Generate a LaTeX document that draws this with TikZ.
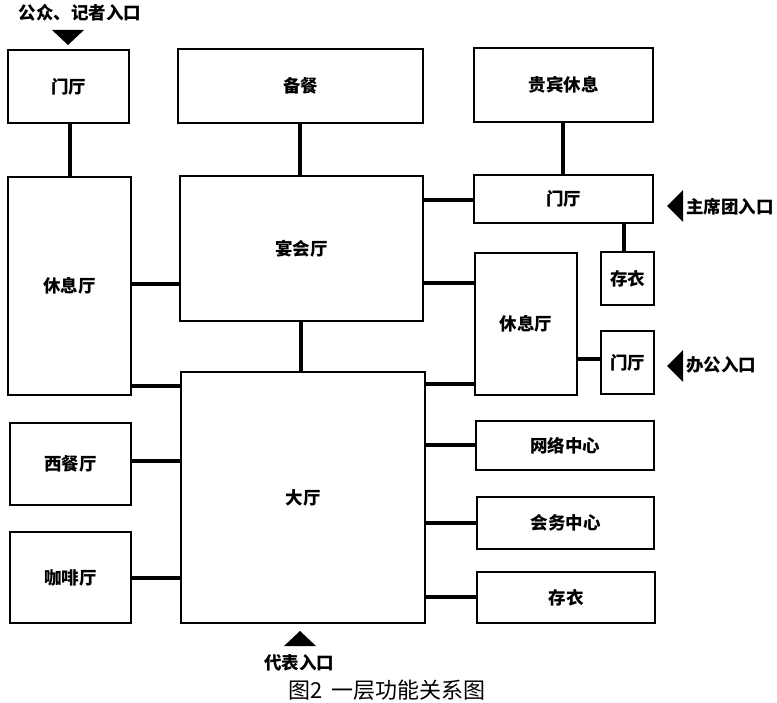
\documentclass[tikz,border=0pt]{standalone}
\usepackage{fontspec}
\setmainfont{Noto Sans CJK SC}
\begin{document}
\begin{tikzpicture}[x=1pt,y=-1pt,
  box/.style={draw,line width=1.4pt,rectangle,inner sep=0pt,font=\fontsize{17.5}{17.5}\selectfont\bfseries},
  conn/.style={line width=3.2pt},
  entry/.style={font=\fontsize{17.5}{17.5}\selectfont\bfseries,inner sep=0pt},
  tri/.style={fill=black}]
\useasboundingbox (0,0) rectangle (777,703);
% boxes
\node[box,minimum width=121pt,minimum height=73pt] (mt1) at (68.5,86.5) {门厅};
\node[box,minimum width=245pt,minimum height=74pt] (bc) at (300.5,86) {备餐};
\node[box,minimum width=179pt,minimum height=74pt] (gb) at (563.5,85) {贵宾休息};
\node[box,minimum width=123pt,minimum height=218pt] (xl) at (69.5,286) {休息厅};
\node[box,minimum width=243pt,minimum height=145pt] (yh) at (301.5,248.5) {宴会厅};
\node[box,minimum width=179pt,minimum height=48pt] (mt2) at (563.5,199) {门厅};
\node[box,minimum width=53pt,minimum height=53pt] (cy1) at (627.5,278.5) {存衣};
\node[box,minimum width=102pt,minimum height=142pt] (xr) at (526,324) {休息厅};
\node[box,minimum width=53pt,minimum height=63pt] (mt3) at (627.5,362.5) {门厅};
\node[box,minimum width=244pt,minimum height=251pt] (dt) at (303,497.5) {大厅};
\node[box,minimum width=121pt,minimum height=82pt] (xc) at (70.5,464) {西餐厅};
\node[box,minimum width=121pt,minimum height=91pt] (kf) at (70.5,577.5) {咖啡厅};
\node[box,minimum width=178pt,minimum height=49pt] (wl) at (565,445.5) {网络中心};
\node[box,minimum width=177pt,minimum height=52pt] (hw) at (565.5,523) {会务中心};
\node[box,minimum width=178pt,minimum height=51pt] (cy2) at (566,597.5) {存衣};
% connector levels
\coordinate (v1) at (70,0);
\coordinate (v2) at (300,0);
\coordinate (v3) at (563,0);
\coordinate (v4) at (301,0);
\coordinate (v5) at (624,0);
\coordinate (h1) at (0,284);
\coordinate (h2) at (0,386);
\coordinate (h3) at (0,200);
\coordinate (h4) at (0,283);
\coordinate (h5) at (0,384);
\coordinate (h6) at (0,359);
\coordinate (h7) at (0,445);
\coordinate (h8) at (0,523);
\coordinate (h9) at (0,597);
\coordinate (h10) at (0,461);
\coordinate (h11) at (0,578);
% connectors
\draw[conn] (mt1.south -| v1) -- (xl.north -| v1);
\draw[conn] (bc.south -| v2) -- (yh.north -| v2);
\draw[conn] (gb.south -| v3) -- (mt2.north -| v3);
\draw[conn] (yh.south -| v4) -- (dt.north -| v4);
\draw[conn] (mt2.south -| v5) -- (cy1.north -| v5);
\draw[conn] (xl.east |- h1) -- (yh.west |- h1);
\draw[conn] (xl.east |- h2) -- (dt.west |- h2);
\draw[conn] (yh.east |- h3) -- (mt2.west |- h3);
\draw[conn] (yh.east |- h4) -- (xr.west |- h4);
\draw[conn] (dt.east |- h5) -- (xr.west |- h5);
\draw[conn] (xr.east |- h6) -- (mt3.west |- h6);
\draw[conn] (dt.east |- h7) -- (wl.west |- h7);
\draw[conn] (dt.east |- h8) -- (hw.west |- h8);
\draw[conn] (dt.east |- h9) -- (cy2.west |- h9);
\draw[conn] (xc.east |- h10) -- (dt.west |- h10);
\draw[conn] (kf.east |- h11) -- (dt.west |- h11);
% entrances
\fill[tri] (52,30) -- (84,30) -- (68,45) -- cycle;
\node[entry] (e1) at (80,13) {公众、记者入口};
\fill[tri] (683,190) -- (683,222) -- (667,206) -- cycle;
\node[entry,anchor=west] (e2) at (686,207) {主席团入口};
\fill[tri] (683,350) -- (683,382) -- (667,366) -- cycle;
\node[entry,anchor=west] (e3) at (686,365) {办公入口};
\fill[tri] (284,646) -- (316,646) -- (300,631) -- cycle;
\node[entry] (e4) at (299,663) {代表入口};
\node[font=\fontsize{22}{22}\selectfont,inner sep=0pt] (cap) at (387,690) {图2\hspace{0.4em}一层功能关系图};
\end{tikzpicture}
\end{document}
